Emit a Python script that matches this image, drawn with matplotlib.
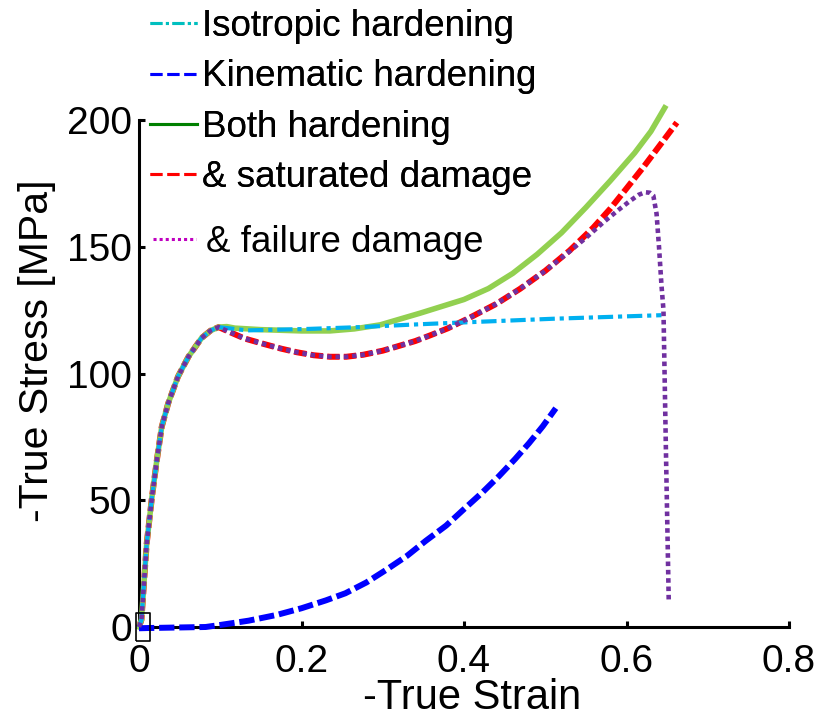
import matplotlib
matplotlib.use("Agg")
import matplotlib.pyplot as plt
from matplotlib.lines import Line2D

plt.rcParams['font.family'] = ['Liberation Sans', 'DejaVu Sans']
plt.rcParams['lines.scale_dashes'] = False

# ---- data ----
rise_x = [0, 0.003, 0.0095, 0.016, 0.022, 0.028, 0.036, 0.048, 0.061, 0.077, 0.088, 0.098]
rise_y = [0, 2.8, 33, 51.4, 65.9, 79, 88.3, 98.8, 106.7, 114, 116.9, 118.3]

both_x = rise_x + [0.108, 0.118, 0.15, 0.2, 0.235, 0.265, 0.297, 0.346, 0.4, 0.43, 0.46,
                   0.49, 0.52, 0.55, 0.58, 0.61, 0.63, 0.647]
both_y = rise_y + [118.5, 117.9, 117.3, 116.8, 116.8, 117.6, 119.2, 123.8, 129.2, 133.5, 139.5,
                   147, 155.5, 165.5, 176, 187, 195.5, 204.8]

iso_x = rise_x + [0.133, 0.21, 0.272, 0.337, 0.358, 0.51, 0.643]
iso_y = rise_y + [117, 117.6, 118.3, 119.3, 119.6, 121.6, 123]

kin_x = [0, 0.012, 0.082, 0.1, 0.135, 0.17, 0.2, 0.23, 0.254, 0.28, 0.304, 0.33, 0.353,
         0.378, 0.4, 0.423, 0.443, 0.463, 0.48, 0.497, 0.513]
kin_y = [-0.5, -0.4, 0, 0.8, 2.5, 4.8, 7.4, 10.5, 13.3, 17.6, 22.5, 28.1, 34.0,
         40.0, 46.5, 53.2, 59.5, 66.3, 72.5, 79.2, 86.3]

soft_x = [0.112, 0.13, 0.153, 0.175, 0.194, 0.215, 0.235, 0.255, 0.276, 0.3, 0.317, 0.34,
          0.358, 0.38, 0.407, 0.44, 0.469, 0.5]
soft_y = [116.3, 113.8, 111.7, 109.8, 108.4, 107.2, 106.6, 106.6, 107.4, 109, 110.6, 112.8,
          115, 117.8, 122, 127.5, 133.4, 140.5]

sat_x = rise_x + soft_x + [0.53, 0.559, 0.58, 0.6, 0.621, 0.641, 0.662]
sat_y = rise_y + soft_y + [148.5, 157.5, 165, 173, 181.5, 190, 199]

fail_x = rise_x + soft_x + [0.53, 0.55, 0.571, 0.59, 0.604, 0.615, 0.623, 0.629, 0.633,
                            0.637, 0.64, 0.643, 0.6455, 0.6485, 0.652]
fail_y = rise_y + soft_y + [148.2, 153.5, 159.5, 164.5, 168, 170.5, 171.5, 171.3, 170.2,
                            163, 150, 135, 125, 70, 10]

labels = ['Isotropic hardening', 'Kinematic hardening', 'Both hardening',
          '& saturated damage', '& failure damage']
x_ticks = [0, 0.2, 0.4, 0.6, 0.8]
x_ticklabels = ['0', '0.2', '0.4', '0.6', '0.8']
y_ticks = [0, 50, 100, 150, 200]

fig = plt.figure(figsize=(8.34, 7.17), dpi=100)
ax = fig.add_axes([139/834, 1 - 627/717, 650/834, 507/717])

ax.plot(sat_x, sat_y, color='#FF0000', lw=4.3, dashes=(9, 3), zorder=2, clip_on=False)
ax.plot(both_x, both_y, color='#92D050', lw=4.0, zorder=3, clip_on=False)
ax.plot(iso_x, iso_y, color='#00B0F0', lw=3.0, dashes=(11, 3.5, 3, 3.5), zorder=4, clip_on=False)
ax.plot(kin_x, kin_y, color='#0000FF', lw=4.3, dashes=(11, 3.5), zorder=4, clip_on=False)
ax.plot(fail_x, fail_y, color='#7030A0', lw=3.3, dashes=(3.3, 2.7), zorder=5, clip_on=False,
        solid_capstyle='butt', dash_capstyle='butt')
# small box marker at origin
ax.plot([0.005], [0], linestyle='none',
        marker=[(-0.5, -1), (0.5, -1), (0.5, 1), (-0.5, 1), (-0.5, -1)],
        markersize=20, markerfacecolor='none', markeredgecolor='black', markeredgewidth=1.2,
        clip_on=False, zorder=6)

ax.set_xlim(0, 0.8)
ax.set_ylim(0, 200)
ax.set_xticks(x_ticks)
ax.set_xticklabels(x_ticklabels)
ax.set_yticks(y_ticks)
for s in ['top', 'right']:
    ax.spines[s].set_visible(False)
for s in ['left', 'bottom']:
    ax.spines[s].set_linewidth(2.2)
ax.tick_params(direction='in', length=4, width=2.2, labelsize=28)
ax.tick_params(axis='x', pad=12)
ax.tick_params(axis='y', pad=5)

ax.set_xlabel('-True Strain', fontsize=30)
ax.set_ylabel('-True Stress [MPa]', fontsize=29.5)
ax.xaxis.set_label_coords(0.512, -0.10)
ax.yaxis.set_label_coords(-0.128, 0.544)

# legend proxies
h = [Line2D([], [], color='#00BFBF', lw=2.2, dashes=(8.6, 2.5, 2.2, 2.5)),
     Line2D([], [], color='#0000FF', lw=2.2, dashes=(8.6, 3.6)),
     Line2D([], [], color='#008000', lw=2.2),
     Line2D([], [], color='#FF0000', lw=2.2, dashes=(8.6, 3.6)),
     Line2D([], [], color='#BF00BF', lw=2.2, dashes=(2.2, 2.2))]
leg1 = fig.legend(h[:4], labels[:4], loc='upper left', bbox_to_anchor=(149.5/834, 0.987),
                  frameon=False, fontsize=26.5, handlelength=1.28, handletextpad=0.16,
                  labelspacing=0.41, borderpad=0, borderaxespad=0)
leg2 = fig.legend(h[4:], labels[4:], loc='upper left', bbox_to_anchor=(153/834, 1 - 225/717),
                  frameon=False, fontsize=26.5, handlelength=1.18, handletextpad=0.25,
                  borderpad=0, borderaxespad=0)
fig.add_artist(leg1)

fig.savefig('out.png', dpi=100)
